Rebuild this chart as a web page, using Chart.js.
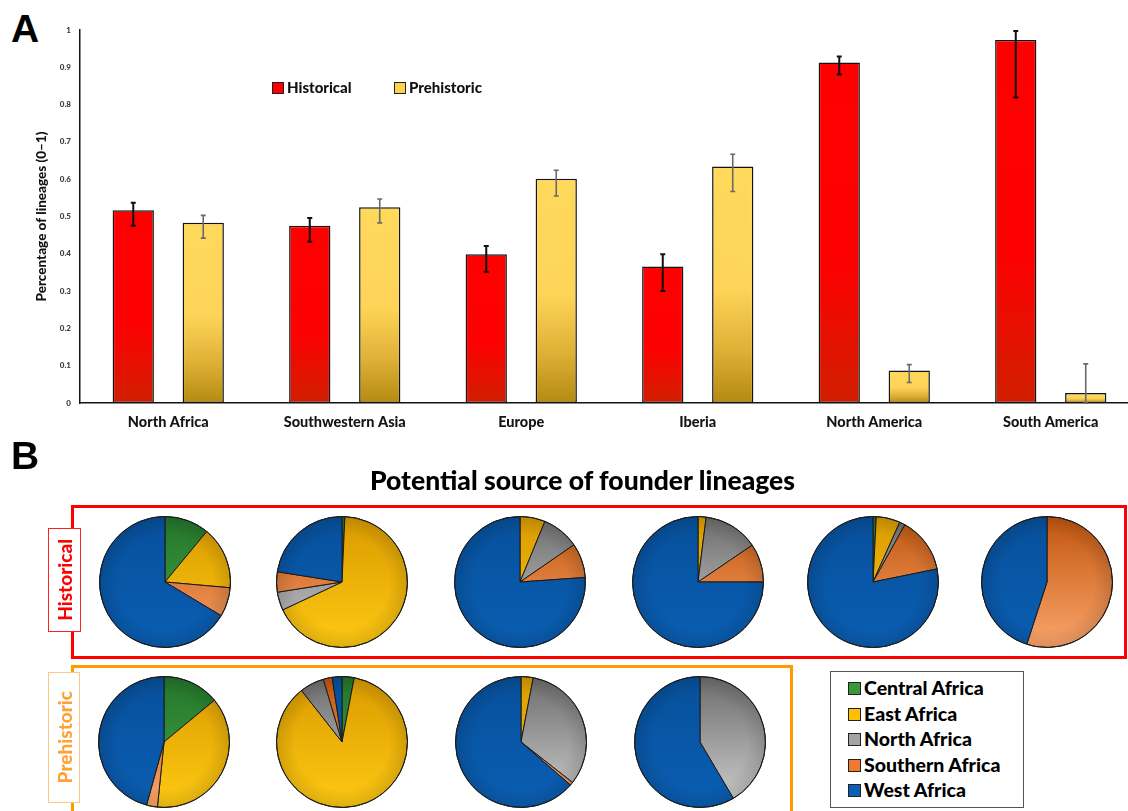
<!DOCTYPE html>
<html>
<head>
<meta charset="utf-8">
<script src="https://cdn.jsdelivr.net/npm/chart.js@4.4.1/dist/chart.umd.min.js"></script>
<style>
  html, body { margin: 0; padding: 0; background: #fff; }
  body { width: 1128px; height: 811px; overflow: hidden; position: relative; font-family: Lato, "Open Sans", sans-serif; }
  .abs { position: absolute; }
  .letter { position: absolute; font-family: "Liberation Sans", Arial, sans-serif; font-weight: bold; font-size: 39px; line-height: 1; color: #000; }
  #barWrap { left: 0; top: 0; width: 1146px; height: 440px; }
  .legA { position: absolute; top: 79px; font-weight: 900; font-size: 15px; line-height: 16px; color: #111; white-space: nowrap; }
  .legA i { position: absolute; left: -15px; top: 3px; width: 10px; height: 10px; border: 1px solid #222; }
  #pieTitle { position: absolute; left: 0; width: 1165px; top: 465px; text-align: center; font-weight: 900; font-size: 26.5px; line-height: 30px; color: #000; }
  #histBox { position: absolute; left: 71px; top: 505px; width: 1056px; height: 154px; border: 3px solid #ff0000; box-sizing: border-box; }
  #preBox { position: absolute; left: 71px; top: 665px; width: 722px; height: 170px; border: 3px solid #ff9a00; box-sizing: border-box; }
  .rowLabel { position: absolute; background: #fff; box-sizing: border-box; display: flex; align-items: center; justify-content: center; }
  .rowLabel span { writing-mode: vertical-rl; transform: rotate(180deg); font-weight: 900; font-size: 19px; line-height: 1; }
  #histLabel { left: 48px; top: 528px; width: 33px; height: 104px; border: 1px solid #ff2020; }
  #histLabel span { color: #ff0000; }
  #preLabel { left: 48px; top: 672px; width: 32px; height: 131px; border: 1px solid #ffc985; }
  #preLabel span { color: #ffa235; font-size: 19px; }
  .pie { position: absolute; width: 132px; height: 132px; }
  #pieLegend { position: absolute; left: 830px; top: 671px; width: 194px; height: 137px; border: 1.5px solid #555; box-sizing: border-box; background: #fff; }
  .legB { position: absolute; left: 33px; font-weight: 900; font-size: 19.5px; line-height: 22px; color: #000; white-space: nowrap; }
  .legB i { position: absolute; left: -16px; top: 5px; width: 11px; height: 11px; border: 1px solid #222; }
</style>
</head>
<body>
<div class="letter" style="left:11px;top:9px">A</div>
<div id="barWrap" class="abs"><canvas id="bars"></canvas></div>
<div id="legendA"></div>

<div class="letter" style="left:11px;top:436px">B</div>
<div id="pieTitle">Potential source of founder lineages</div>
<div id="histBox"></div>
<div id="preBox"></div>
<div id="histLabel" class="rowLabel"><span>Historical</span></div>
<div id="preLabel" class="rowLabel"><span>Prehistoric</span></div>
<div id="pies"></div>
<div id="pieLegend"></div>

<script>
// ---- Panel A: share of lineages per receiving region ----
const regions = ['North Africa', 'Southwestern Asia', 'Europe', 'Iberia', 'North America', 'South America'];
const seriesNames = ['Historical', 'Prehistoric'];
const historical     = [0.517, 0.475, 0.399, 0.366, 0.913, 0.973];
const historicalLow  = [0.475, 0.432, 0.351, 0.300, 0.881, 0.819];
const historicalHigh = [0.537, 0.496, 0.421, 0.399, 0.929, 0.997];
const prehistoric     = [0.483, 0.525, 0.601, 0.634, 0.087, 0.027];
const prehistoricLow  = [0.442, 0.483, 0.555, 0.567, 0.055, 0.000];
const prehistoricHigh = [0.503, 0.547, 0.624, 0.667, 0.103, 0.105];
const yTicks = [0, 0.1, 0.2, 0.3, 0.4, 0.5, 0.6, 0.7, 0.8, 0.9, 1];
const yTitle = 'Percentage of lineages (0\u20131)';

// ---- Panel B: potential African source of founder lineages ----
const sources = ['Central Africa', 'East Africa', 'North Africa', 'Southern Africa', 'West Africa'];
const historicalSources = [
  [0.110, 0.154, 0.000, 0.072, 0.664],
  [0.007, 0.673, 0.045, 0.050, 0.225],
  [0.000, 0.062, 0.092, 0.085, 0.761],
  [0.000, 0.020, 0.135, 0.095, 0.750],
  [0.008, 0.059, 0.014, 0.137, 0.782],
  [0.000, 0.000, 0.000, 0.550, 0.450]
];
const prehistoricSources = [
  [0.140, 0.376, 0.000, 0.027, 0.457],
  [0.030, 0.864, 0.060, 0.022, 0.024],
  [0.000, 0.030, 0.326, 0.008, 0.636],
  [0.000, 0.000, 0.415, 0.000, 0.585]
];

// layout of the pie grid (centres in page pixels)
const histPieX = [165, 342, 520, 698, 873, 1047];
const histPieY = 582;
const prePieX = [164, 342, 521, 700];
const prePieY = 742;

// styles
const FONT = 'Lato, "Open Sans", sans-serif';
const legendSwatchA = ['#ff0000', '#ffd24a'];
const sourceSwatch = ['#38983a', '#ffc000', '#a3a3a3', '#f07a2e', '#0a5fb4'];
const sourceShade = [            // [top, bottom] of each slice's vertical shading
  ['#23752a', '#44a844'],
  ['#d99a00', '#ffca12'],
  ['#6c6c6c', '#d0d0d0'],
  ['#c0550e', '#fca66c'],
  ['#07509b', '#0a5eb3']
];

Chart.defaults.font.family = FONT;
Chart.defaults.devicePixelRatio = 1;

function barFill(kind) {
  const flat = kind === 0 ? '#ff0000' : '#ffd75a';
  return (c) => {
    const chart = c.chart, ys = chart.scales && chart.scales.y;
    if (!chart.chartArea || !ys || c.raw == null) return flat;
    const top = ys.getPixelForValue(c.raw), base = ys.getPixelForValue(0);
    if (!isFinite(top) || !isFinite(base) || base - top < 1) return flat;
    const g = chart.ctx.createLinearGradient(0, top, 0, base);
    if (kind === 0) {
      g.addColorStop(0, '#ff0000');
      g.addColorStop(0.6, '#fc0100');
      g.addColorStop(1, '#d01f00');
    } else {
      g.addColorStop(0, '#ffd95c');
      g.addColorStop(0.52, '#fdd457');
      g.addColorStop(0.78, '#deb035');
      g.addColorStop(1, '#b48a12');
    }
    return g;
  };
}

const errorRanges = [
  { low: historicalLow, high: historicalHigh, color: '#111', width: 2 },
  { low: prehistoricLow, high: prehistoricHigh, color: '#6a6a6a', width: 1.6 }
];

const errorBars = {
  id: 'errorBars',
  afterDatasetsDraw(chart) {
    const ctx = chart.ctx, ys = chart.scales.y;
    errorRanges.forEach((r, di) => {
      chart.getDatasetMeta(di).data.forEach((bar, i) => {
        const yl = ys.getPixelForValue(r.low[i]);
        const yh = ys.getPixelForValue(r.high[i]);
        ctx.save();
        ctx.strokeStyle = r.color;
        ctx.lineWidth = r.width;
        ctx.beginPath();
        ctx.moveTo(bar.x, yl); ctx.lineTo(bar.x, yh);
        ctx.moveTo(bar.x - 2.5, yl); ctx.lineTo(bar.x + 2.5, yl);
        ctx.moveTo(bar.x - 2.5, yh); ctx.lineTo(bar.x + 2.5, yh);
        ctx.stroke();
        ctx.restore();
      });
    });
  }
};

new Chart(document.getElementById('bars'), {
  type: 'bar',
  data: {
    labels: regions,
    datasets: [
      { label: seriesNames[0], data: historical, backgroundColor: barFill(0),
        borderColor: '#141414', borderWidth: 1.5, borderSkipped: false },
      { label: seriesNames[1], data: prehistoric, backgroundColor: barFill(1),
        borderColor: '#141414', borderWidth: 1.5, borderSkipped: false }
    ]
  },
  options: {
    responsive: true,
    maintainAspectRatio: false,
    animation: false,
    events: [],
    categoryPercentage: 0.793,
    barPercentage: 0.59,
    layout: { padding: { top: 30, right: 7, bottom: 0, left: 0 } },
    plugins: { legend: { display: false }, tooltip: { enabled: false } },
    scales: {
      x: {
        grid: { display: false, drawTicks: false },
        border: { display: true, color: '#141414', width: 1.5 },
        ticks: { font: { family: FONT, weight: 900, size: 14.5 }, color: '#151515', padding: 11, maxRotation: 0 },
        afterFit: (s) => { s.height = 37; }
      },
      y: {
        min: 0, max: 1,
        afterBuildTicks: (s) => { s.ticks = yTicks.map(v => ({ value: v })); },
        grid: { display: false, drawTicks: false },
        border: { display: true, color: '#141414', width: 1.5 },
        ticks: { font: { family: FONT, weight: 900, size: 8 }, color: '#3a3a3a', padding: 9,
                 callback: (v) => String(Number(v.toFixed(1))) },
        title: { display: true, text: yTitle, color: '#111',
                 font: { family: FONT, weight: 900, size: 13.5 }, padding: { top: 34, bottom: 0 } },
        afterFit: (s) => { s.width = 80; }
      }
    }
  },
  plugins: [errorBars]
});

// legend for panel A
(function () {
  const host = document.getElementById('legendA');
  const lefts = [287, 409];
  seriesNames.forEach((name, i) => {
    const d = document.createElement('div');
    d.className = 'legA';
    d.style.left = lefts[i] + 'px';
    d.innerHTML = '<i style="background:' + legendSwatchA[i] + '"></i>' + name;
    host.appendChild(d);
  });
})();

// ---- pies ----
function sliceFill(c) {
  const k = c.dataIndex;
  const a = c.chart.chartArea;
  if (!a) return sourceSwatch[k];
  const g = c.chart.ctx.createLinearGradient(0, a.top, 0, a.bottom);
  g.addColorStop(0, sourceShade[k][0]);
  g.addColorStop(1, sourceShade[k][1]);
  return g;
}

const rimShade = {
  id: 'rimShade',
  afterDatasetsDraw(chart) {
    const arc = chart.getDatasetMeta(0).data.find(e => e.circumference > 0);
    if (!arc) return;
    const ctx = chart.ctx, x = arc.x, y = arc.y, r = arc.outerRadius;
    const g = ctx.createRadialGradient(x, y, 0, x, y, r);
    g.addColorStop(0, 'rgba(0,0,0,0)');
    g.addColorStop(0.72, 'rgba(0,0,0,0)');
    g.addColorStop(1, 'rgba(0,0,0,0.13)');
    ctx.save();
    ctx.fillStyle = g;
    ctx.beginPath(); ctx.arc(x, y, r, 0, Math.PI * 2); ctx.fill();
    ctx.strokeStyle = '#1e1e1e'; ctx.lineWidth = 1;
    ctx.beginPath(); ctx.arc(x, y, r, 0, Math.PI * 2); ctx.stroke();
    ctx.restore();
  }
};

function makePie(values, cx, cy) {
  const box = document.createElement('div');
  box.className = 'pie';
  box.style.left = (cx - 66) + 'px';
  box.style.top = (cy - 66) + 'px';
  const cv = document.createElement('canvas');
  box.appendChild(cv);
  document.getElementById('pies').appendChild(box);
  new Chart(cv, {
    type: 'pie',
    data: {
      labels: sources,
      datasets: [{
        data: values,
        backgroundColor: sliceFill,
        borderColor: '#1a1a1a',
        borderWidth: 1
      }]
    },
    options: {
      responsive: true,
      maintainAspectRatio: false,
      animation: false,
      events: [],
      layout: { padding: 0 },
      plugins: { legend: { display: false }, tooltip: { enabled: false } }
    },
    plugins: [rimShade]
  });
}

historicalSources.forEach((v, i) => makePie(v, histPieX[i], histPieY));
prehistoricSources.forEach((v, i) => makePie(v, prePieX[i], prePieY));

// legend for panel B
(function () {
  const host = document.getElementById('pieLegend');
  sources.forEach((name, k) => {
    const d = document.createElement('div');
    d.className = 'legB';
    d.style.top = (5 + k * 25.5) + 'px';
    d.innerHTML = '<i style="background:' + sourceSwatch[k] + '"></i>' + name;
    host.appendChild(d);
  });
})();
</script>
</body>
</html>
